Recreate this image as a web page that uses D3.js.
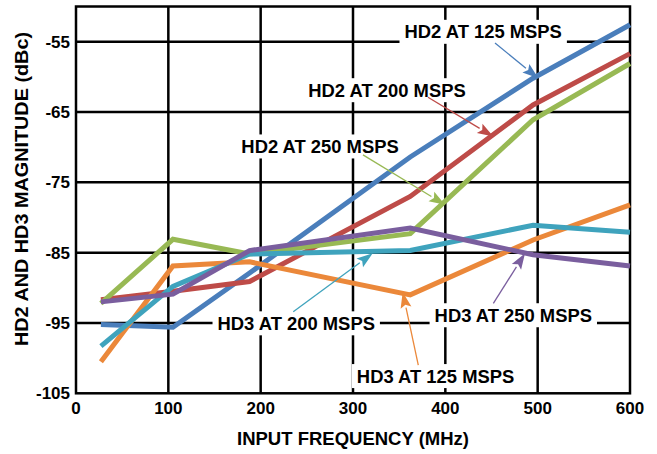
<!DOCTYPE html>
<html>
<head>
<meta charset="utf-8">
<script src="https://cdn.jsdelivr.net/npm/d3@7"></script>
<style>
  body { margin: 0; background: #fff; }
  text { font-family: "Liberation Sans", Arial, sans-serif; font-weight: bold; fill: #000; }
</style>
</head>
<body>
<div id="chart"></div>
<script>
// input frequencies (MHz) for every curve
const freqs = [27, 105, 188, 362, 495, 600];

// harmonic levels in dBc
const hd2At125 = [-95.2, -95.6, -87.9, -71.4, -60.2, -52.6];
const hd2At200 = [-91.7, -90.5, -89.1, -77.0, -64.0, -56.7];
const hd2At250 = [-92.2, -83.1, -85.2, -82.3, -66.1, -58.1];
const hd3At125 = [-100.5, -86.9, -86.3, -91.0, -83.2, -78.2];
const hd3At200 = [-98.3, -89.8, -85.2, -84.7, -81.1, -82.1];
const hd3At250 = [-92.0, -90.9, -84.7, -81.5, -85.3, -86.9];

const seriesNames = ['HD2 AT 125 MSPS', 'HD2 AT 200 MSPS', 'HD2 AT 250 MSPS',
                     'HD3 AT 125 MSPS', 'HD3 AT 200 MSPS', 'HD3 AT 250 MSPS'];
const seriesValues = [hd2At125, hd2At200, hd2At250, hd3At125, hd3At200, hd3At250];

const xTicks = [0, 100, 200, 300, 400, 500, 600];
const yTicks = [-105, -95, -85, -75, -65, -55];

// callout label centre, arrow tail and arrow tip, all in data units
const callouts = [
  { name: 'HD2 AT 125 MSPS', label: [441, -53.6], from: [453.8, -55.2], to: [500.7, -60.2] },
  { name: 'HD2 AT 200 MSPS', label: [336.8, -61.9], from: [381.2, -62.9], to: [452, -68.5] },
  { name: 'HD2 AT 250 MSPS', label: [264.3, -69.9], from: [310.8, -71.1], to: [399.7, -78.2] },
  { name: 'HD3 AT 200 MSPS', label: [238.5, -95.05], from: [235.3, -93.4], to: [321.3, -85.1] },
  { name: 'HD3 AT 250 MSPS', label: [473.6, -93.9], from: [452, -92.2], to: [486.3, -85.1] },
  { name: 'HD3 AT 125 MSPS', label: [389.4, -102.55], from: [370.7, -101.0], to: [353.8, -90.6] }
];

const width = 657;
const height = 454;
const margin = { top: 6.5, right: 27, bottom: 60.7, left: 76 };

const color = d3.scaleOrdinal()
    .domain(seriesNames)
    .range(['#4a7ebb', '#be4b48', '#98b954', '#eb883a', '#3fa3bd', '#7a5e9e']);

const x = d3.scaleLinear().domain([0, 600]).range([margin.left, width - margin.right]);
const y = d3.scaleLinear().domain([-105, -50]).range([height - margin.bottom, margin.top]);

const svg = d3.select('#chart')
    .append('svg')
    .attr('width', width)
    .attr('height', height);

// grid
svg.append('g')
    .selectAll('line')
    .data(xTicks.slice(1, -1))
    .enter()
    .append('line')
    .attr('x1', d => x(d)).attr('x2', d => x(d))
    .attr('y1', y(-50)).attr('y2', y(-105))
    .attr('stroke', '#000').attr('stroke-width', 2.5);

svg.append('g')
    .selectAll('line')
    .data(yTicks.slice(1))
    .enter()
    .append('line')
    .attr('x1', x(0)).attr('x2', x(600))
    .attr('y1', d => y(d)).attr('y2', d => y(d))
    .attr('stroke', '#000').attr('stroke-width', 2.5);

svg.append('rect')
    .attr('x', x(0)).attr('y', y(-50))
    .attr('width', x(600) - x(0)).attr('height', y(-105) - y(-50))
    .attr('fill', 'none').attr('stroke', '#000').attr('stroke-width', 2.5);

// tick labels
svg.append('g')
    .selectAll('text')
    .data(yTicks)
    .enter()
    .append('text')
    .attr('x', x(0) - 6)
    .attr('y', d => y(d) + 6)
    .attr('text-anchor', 'end')
    .style('font-size', '17px')
    .text(d => d);

svg.append('g')
    .selectAll('text')
    .data(xTicks)
    .enter()
    .append('text')
    .attr('x', d => x(d))
    .attr('y', y(-105) + 21)
    .attr('text-anchor', 'middle')
    .style('font-size', '17px')
    .text(d => d);

// axis titles
svg.append('text')
    .attr('x', (x(0) + x(600)) / 2)
    .attr('y', 445)
    .attr('text-anchor', 'middle')
    .style('font-size', '18.5px')
    .text('INPUT FREQUENCY (MHz)');

svg.append('text')
    .attr('transform', `translate(27.5, ${189}) rotate(-90)`)
    .attr('text-anchor', 'middle')
    .attr('textLength', 314)
    .attr('lengthAdjust', 'spacingAndGlyphs')
    .style('font-size', '18.5px')
    .text('HD2 AND HD3 MAGNITUDE (dBc)');

// callout labels sit on white boxes that break the grid
const labels = svg.append('g')
    .selectAll('g')
    .data(callouts)
    .enter()
    .append('g')
    .attr('transform', d => `translate(${x(d.label[0])}, ${y(d.label[1])})`);

labels.append('rect').attr('fill', '#fff');

labels.append('text')
    .attr('text-anchor', 'middle')
    .attr('dy', '0.36em')
    .style('font-size', '18.4px')
    .text(d => d.name);

labels.each(function() {
    const g = d3.select(this);
    const bb = g.select('text').node().getBBox();
    g.select('rect')
        .attr('x', bb.x - 5)
        .attr('y', -12)
        .attr('width', bb.width + 10)
        .attr('height', 24);
});

// curves
const line = d3.line()
    .x((d, i) => x(freqs[i]))
    .y(d => y(d));

svg.append('g')
    .selectAll('path')
    .data(seriesNames)
    .enter()
    .append('path')
    .attr('d', (d, i) => line(seriesValues[i]))
    .attr('fill', 'none')
    .attr('stroke', d => color(d))
    .attr('stroke-width', 5);

// arrows
const HEAD_LEN = 16;
const HEAD_HALF = 5.5;

const arrows = svg.append('g')
    .selectAll('g')
    .data(callouts)
    .enter()
    .append('g');

arrows.each(function(d) {
    const x0 = x(d.from[0]), y0 = y(d.from[1]);
    const x1 = x(d.to[0]), y1 = y(d.to[1]);
    const len = Math.hypot(x1 - x0, y1 - y0);
    const ux = (x1 - x0) / len, uy = (y1 - y0) / len;
    const bx = x1 - ux * HEAD_LEN, by = y1 - uy * HEAD_LEN;
    const g = d3.select(this);
    g.append('line')
        .attr('x1', x0).attr('y1', y0)
        .attr('x2', bx).attr('y2', by)
        .attr('stroke', color(d.name))
        .attr('stroke-width', 1.3);
    g.append('path')
        .attr('d', `M${x1},${y1}L${bx - uy * HEAD_HALF},${by + ux * HEAD_HALF}` +
                   `L${bx + ux * 3},${by + uy * 3}L${bx + uy * HEAD_HALF},${by - ux * HEAD_HALF}Z`)
        .attr('fill', color(d.name));
});
</script>
</body>
</html>
